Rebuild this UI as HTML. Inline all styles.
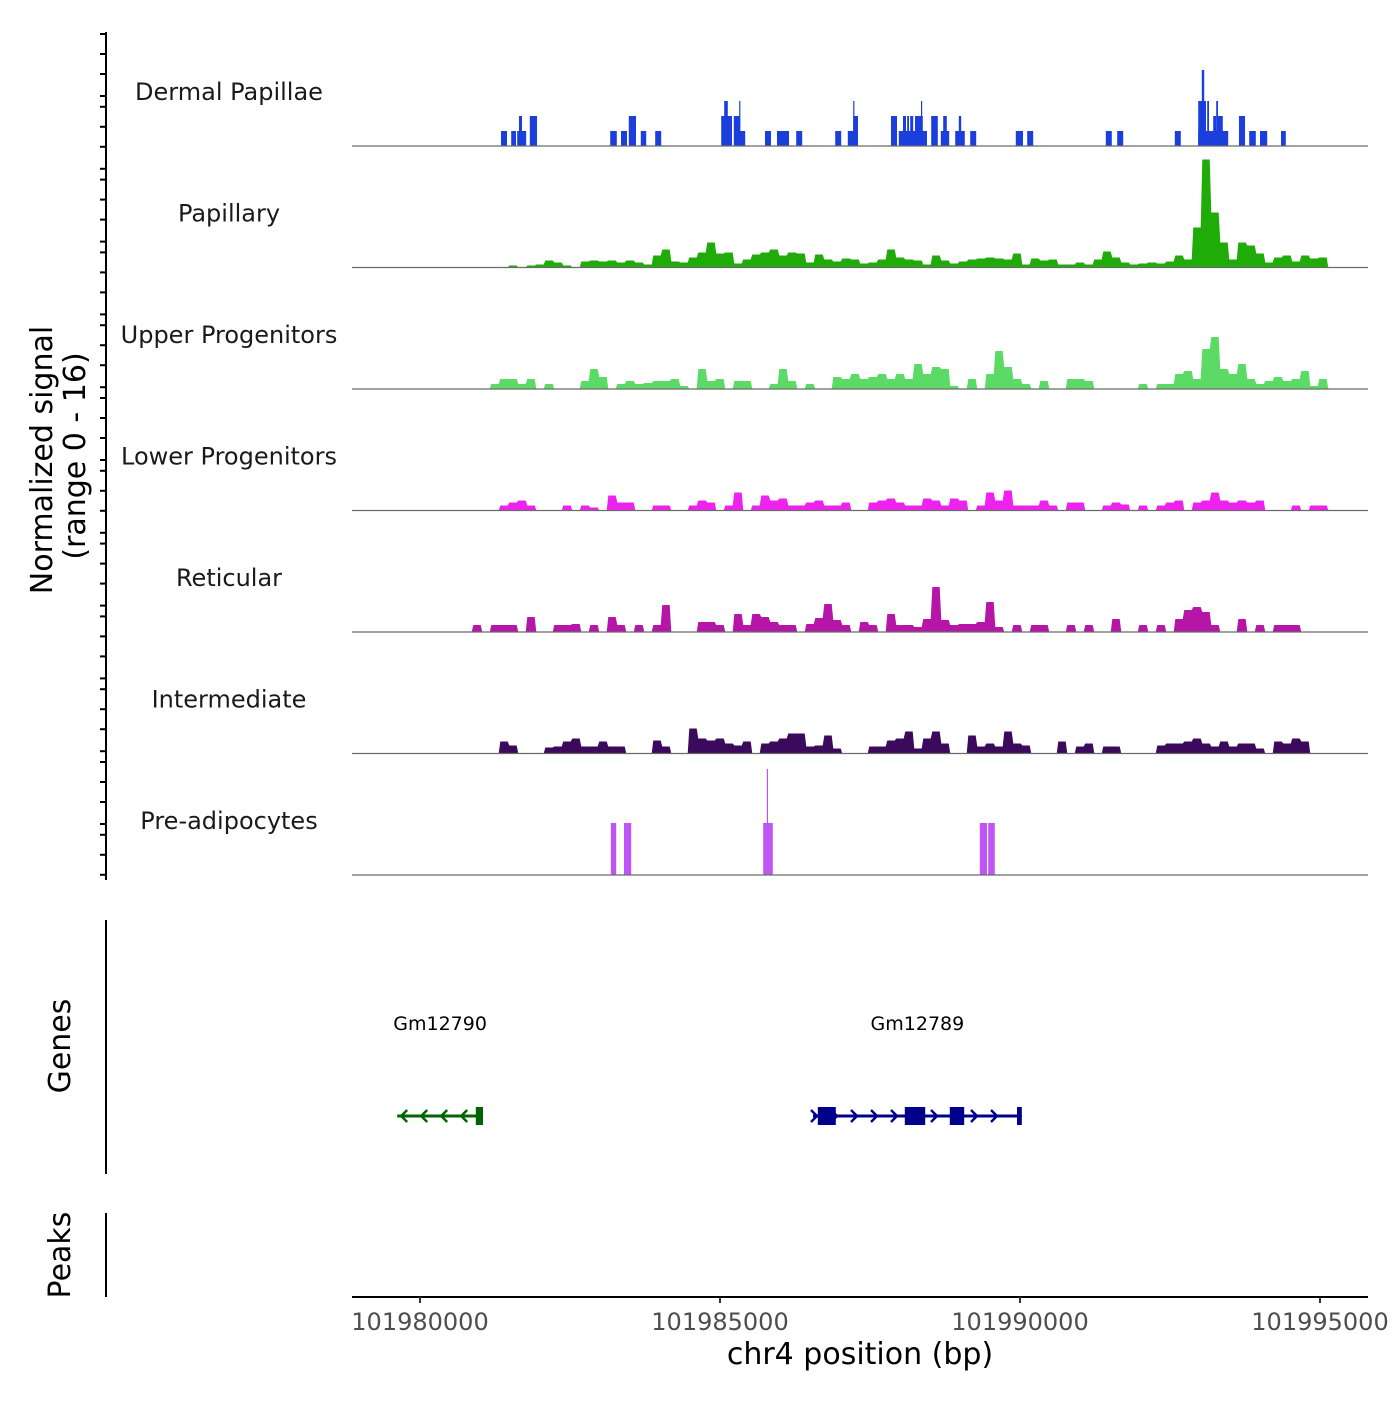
<!DOCTYPE html>
<html><head><meta charset="utf-8"><style>
html,body{margin:0;padding:0;background:#fff;}
svg text{font-family:"DejaVu Sans","Liberation Sans",sans-serif;}
</style></head><body>
<svg id="chart" width="1400" height="1400" viewBox="0 0 1400 1400" xmlns="http://www.w3.org/2000/svg">
<g id="left-axis"></g>
<text transform="translate(52,460) rotate(-90)" text-anchor="middle" font-size="30" fill="#000">Normalized signal</text>
<text transform="translate(85,456) rotate(-90)" text-anchor="middle" font-size="30" fill="#000">(range 0 - 16)</text>
<g id="tracks"></g>
<line x1="106" y1="920" x2="106" y2="1174" stroke="#000" stroke-width="2"/>
<text transform="translate(70,1046) rotate(-90)" text-anchor="middle" font-size="30" fill="#000">Genes</text>
<g id="genes"></g>
<line x1="106" y1="1213" x2="106" y2="1297" stroke="#000" stroke-width="2"/>
<text transform="translate(70,1255) rotate(-90)" text-anchor="middle" font-size="30" fill="#000">Peaks</text>
<line x1="352" y1="1297" x2="1368" y2="1297" stroke="#000" stroke-width="2"/>
<g id="xaxis"></g>
<text x="860" y="1364" text-anchor="middle" font-size="30" fill="#000">chr4 position (bp)</text>
</svg>
<script>
// x positions in kb relative to 101,980,000 bp
const xTicks = [101980000, 101985000, 101990000, 101995000];
const trackNames = ["Dermal Papillae","Papillary","Upper Progenitors","Lower Progenitors","Reticular","Intermediate","Pre-adipocytes"];
const trackColors = ["#1a3fdc","#1fac08","#5bdb66","#ee22ee","#b616a8","#3b0a5c","#bf55f5"];
// dense tracks sampled every 0.15 kb starting at 0.8 kb
const sampleStartKb = 0.8;
const sampleStepKb = 0.15;
const papillary = [0,0,0,0,0,2,0,2,3,7,5,2,0,6,7,6,7,5,7,5,3,12,18,6,5,10,15,25,14,15,4,8,13,15,18,12,15,14,5,13,8,6,9,8,4,5,8,18,10,8,7,3,12,7,4,6,8,9,10,9,8,14,3,9,7,8,3,3,5,3,8,16,10,5,3,4,5,4,6,12,8,40,108,55,25,8,25,22,14,5,10,12,6,12,9,10,0];
const upperProg = [0,0,0,5,10,10,5,10,0,5,0,0,0,8,20,12,0,5,8,5,6,8,8,10,3,0,20,8,10,0,8,8,0,0,5,20,8,0,5,0,0,12,10,15,10,12,15,10,15,10,25,15,22,20,3,0,10,0,15,38,22,10,5,0,8,0,0,10,10,8,0,0,0,0,0,5,0,5,5,15,18,10,40,52,20,15,25,10,5,8,12,8,10,18,3,10,0];
const lowerProg = [0,0,0,0,5,8,10,5,0,0,0,5,0,5,3,0,15,8,8,0,0,5,5,0,0,5,10,8,0,5,18,0,5,15,10,12,5,5,8,10,5,5,8,0,0,8,10,12,8,5,5,12,10,5,12,10,0,5,18,10,20,5,5,5,10,5,0,8,8,0,0,5,8,6,0,5,0,5,8,10,0,8,10,18,10,8,10,8,10,0,0,0,5,0,5,5,0];
const reticular = [0,7,0,7,7,7,0,15,0,0,7,7,8,0,7,0,15,7,0,7,0,7,27,0,0,0,10,10,7,0,18,7,18,15,10,7,7,0,8,14,28,12,7,0,10,7,0,18,7,7,5,13,45,12,7,8,8,10,30,5,0,7,0,7,7,0,0,7,0,7,0,0,13,0,0,7,0,7,0,13,22,25,20,7,0,0,13,0,7,0,7,7,7,0,0,0,0];
const intermediate = [0,0,0,0,12,8,0,0,0,6,7,12,15,7,7,12,7,7,0,0,0,13,7,0,0,25,15,13,15,10,8,12,0,10,12,15,20,20,7,8,18,5,0,0,0,7,7,13,15,22,5,15,22,10,0,0,18,7,10,7,22,10,8,0,0,0,12,0,7,10,0,7,7,0,0,0,0,8,10,10,12,15,10,7,12,7,10,10,5,0,12,10,15,12,0,0,0];
// sparse tracks as blocks: start kb, end kb, value
const dermalStart = [1.35,1.52,1.62,1.65,1.83,3.17,3.35,3.48,3.68,3.92,5.02,5.07,5.23,5.32,5.33,5.75,5.95,6.27,6.92,7.13,7.22,7.22,7.85,7.98,8.05,8.12,8.17,8.25,8.35,8.52,8.68,8.72,8.92,8.98,9.17,9.93,10.12,11.43,11.62,12.58,12.97,12.97,13.03,13.12,13.22,13.27,13.30,13.65,13.82,14.00,14.35];
const dermalEnd   = [1.45,1.60,1.77,1.70,1.95,3.28,3.45,3.60,3.77,4.02,5.20,5.13,5.33,5.34,5.42,5.85,6.15,6.37,7.02,7.30,7.30,7.24,7.95,8.45,8.10,8.15,8.22,8.38,8.37,8.63,8.82,8.78,9.08,9.02,9.27,10.05,10.22,11.53,11.72,12.68,13.47,13.10,13.07,13.15,13.27,13.30,13.38,13.75,13.93,14.12,14.43];
const dermalVal   = [15,15,15,30,30,15,15,30,15,15,30,45,30,45,15,15,15,15,15,15,30,45,30,15,30,30,30,30,45,30,15,30,15,30,15,15,15,15,15,15,15,45,76,45,30,45,30,30,15,15,15];
const preadStart = [3.18,3.40,5.72,5.78,9.33,9.47];
const preadEnd   = [3.27,3.52,5.88,5.80,9.45,9.58];
const preadVal   = [52,52,52,106,52,52];
// genes
const geneNames = ["Gm12790","Gm12789"];
const geneStart = [-0.38,6.55];
const geneEnd = [1.05,10.03];
const geneStrand = [-1,1];
const geneColors = ["#006400","#00008b"];
const exonGene = [0,1,1,1,1];
const exonStart = [0.93,6.63,8.08,8.83,9.95];
const exonEnd = [1.05,6.93,8.42,9.07,10.03];

const NS="http://www.w3.org/2000/svg";
function mk(tag,attrs,parent){const e=document.createElementNS(NS,tag);for(const k in attrs)e.setAttribute(k,attrs[k]);parent.appendChild(e);return e;}
const xs = kb => 420 + kb*60;
const xbp = bp => xs((bp-101980000)/1000);
const base = k => 146 + 121.5*k;
const ys = (k,v) => base(k) - v;

const la=document.getElementById('left-axis');
let ln=mk('line',{x1:106,y1:32,x2:106,y2:880,stroke:'#000','stroke-width':2},la);


for(let n=0;n<12;n++){for(const p of [0,20,40,62]){const y=34+72.8*n+p;if(y>879)continue;
 const t=mk('line',{x1:100,y1:y,x2:106,y2:y,stroke:'#000','stroke-width':2},la);
 
 }}

const tg=document.getElementById('tracks');
const dense={1:papillary,2:upperProg,3:lowerProg,4:reticular,5:intermediate};
const blocks={0:[dermalStart,dermalEnd,dermalVal],6:[preadStart,preadEnd,preadVal]};
trackNames.forEach((name,k)=>{
 const g=mk('g',{},tg);
 
 
 const lab=mk('text',{x:229,y:base(k)-46,'text-anchor':'middle','font-size':24,fill:'#1a1a1a'},g);
 lab.textContent=name;
 
 
 if(dense[k]){
  const arr=dense[k];
  const half=sampleStepKb/2;
  let pts=[[xs(sampleStartKb-half),base(k)]];
  arr.forEach((v,i)=>{const c=sampleStartKb+i*sampleStepKb;
   pts.push([xs(c-half)+0.8,ys(k,v)]);pts.push([xs(c+half)-0.8,ys(k,v)]);});
  pts.push([xs(sampleStartKb+(arr.length-1)*sampleStepKb+half),base(k)]);
  const p=mk('polygon',{points:pts.map(q=>q.join(',')).join(' '),fill:trackColors[k]},g);
  
  
 } else {
  const [s,e,v]=blocks[k];
  s.forEach((st,i)=>{
   const r=mk('rect',{x:xs(st),y:ys(k,v[i]),width:Math.max(1,xs(e[i])-xs(st)),height:v[i],fill:trackColors[k]},g);
   
   
  });
 }
 const bl=mk('line',{x1:352,y1:base(k),x2:1368,y2:base(k),stroke:'#6b6b6b','stroke-width':1.2},g);
 
 
});

const gg=document.getElementById('genes');
const gy=1116;
geneNames.forEach((nm,i)=>{
 const c=geneColors[i];
 const t=mk('text',{x:(xs(geneStart[i])+xs(geneEnd[i]))/2,y:1030,'text-anchor':'middle','font-size':19,fill:'#000'},gg);
 t.textContent=nm;
 
 
 const l=mk('line',{x1:xs(geneStart[i]),y1:gy,x2:xs(geneEnd[i]),y2:gy,stroke:c,'stroke-width':3},gg);
 
 
 for(let x=xs(geneStart[i])+4;x<xs(geneEnd[i])-6;x+=20){
  const d=geneStrand[i];
  const a=mk('polyline',{points:`${x-6*d},${gy-6} ${x},${gy} ${x-6*d},${gy+6}`,fill:'none',stroke:c,'stroke-width':2.5},gg);
  
  
 }
});
exonStart.forEach((s,i)=>{
 const r=mk('rect',{x:xs(s),y:gy-9,width:xs(exonEnd[i])-xs(s),height:18,fill:geneColors[exonGene[i]]},gg);
 
 
});

const xa=document.getElementById('xaxis');
xTicks.forEach(v=>{
 const x=xbp(v);
 const t=mk('line',{x1:x,y1:1297,x2:x,y2:1303,stroke:'#333','stroke-width':2},xa);
 
 
 const l=mk('text',{x:x,y:1330,'text-anchor':'middle','font-size':24,fill:'#4d4d4d'},xa);
 l.textContent=String(v);
 
 
});
</script>
</body></html>
